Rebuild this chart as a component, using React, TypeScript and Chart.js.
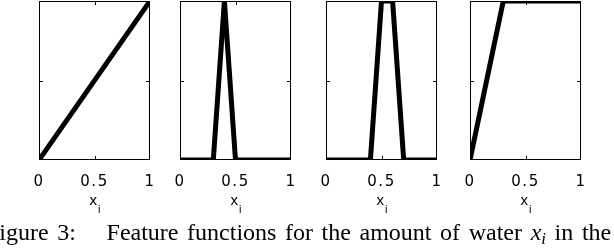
import React, { useEffect, useRef } from "react";
import { Chart, registerables } from "chart.js";

Chart.register(...registerables);

// ---- data ----
const xTickValues = [0, 0.5, 1];
const xTickLabels = ["0", "0.5", "1"];

const panel1X = [0, 1];
const panel1Y = [0, 1];

const panel2X = [0, 0.3, 0.4, 0.5, 1];
const panel2Y = [0, 0, 1, 0, 0];

const panel3X = [0, 0.4, 0.5, 0.6, 0.7, 1];
const panel3Y = [0, 0, 1, 1, 0, 0];

const panel4X = [0, 0.3, 1];
const panel4Y = [0, 1, 1];

const axisLabel = "x";
const axisLabelSub = "i";
const captionStart = "Figure 3:";
const captionMiddle = "Feature functions for the amount of water ";
const captionVar = "x";
const captionVarSub = "i";
const captionAfter = " in the";

// ---- layout ----
const PANEL_LEFT = [39, 180, 326, 470];
const PANEL_W = 111;
const PAD = 20;
const AXIS_H = 34;
const CANVAS_H = 160 + AXIS_H;

const boxPlugin = {
  id: "matlabBox",
  beforeDraw(chart: any) {
    try {
      chart.ctx.letterSpacing = "1.5px";
    } catch (e) {}
  },
  beforeDatasetsDraw(chart: any) {
    const { ctx, chartArea: a, scales } = chart;
    ctx.save();
    ctx.strokeStyle = "#000";
    ctx.lineWidth = 1;
    ctx.strokeRect(a.left + 0.5, a.top + 0.5, a.right - a.left - 1, a.bottom - a.top - 1);
    const xm = Math.round(scales.x.getPixelForValue(0.5)) + 0.5;
    const ym = Math.round(scales.y.getPixelForValue(0.5)) + 0.5;
    ctx.beginPath();
    ctx.moveTo(xm, a.bottom);
    ctx.lineTo(xm, a.bottom - 4);
    ctx.moveTo(xm, a.top);
    ctx.lineTo(xm, a.top + 4);
    ctx.moveTo(a.left, ym);
    ctx.lineTo(a.left + 4, ym);
    ctx.moveTo(a.right, ym);
    ctx.lineTo(a.right - 4, ym);
    ctx.stroke();
    ctx.restore();
  },
};

function Panel({ xs, ys, left }: { xs: number[]; ys: number[]; left: number }) {
  const ref = useRef<HTMLCanvasElement | null>(null);
  useEffect(() => {
    if (!ref.current) return;
    const chart = new Chart(ref.current, {
      type: "line",
      data: {
        datasets: [
          {
            data: xs.map((x, i) => ({ x, y: ys[i] })),
            borderColor: "#000",
            borderWidth: 5,
            pointRadius: 0,
            tension: 0,
            fill: false,
          },
        ],
      },
      options: {
        responsive: false,
        animation: false,
        events: [],
        layout: { padding: { left: PAD, right: PAD, top: 1, bottom: 0 } },
        plugins: { legend: { display: false }, tooltip: { enabled: false } },
        scales: {
          x: {
            type: "linear",
            min: 0,
            max: 1,
            afterBuildTicks: (s: any) => {
              s.ticks = xTickValues.map((v) => ({ value: v }));
            },
            afterFit: (s: any) => {
              s.height = AXIS_H;
            },
            ticks: {
              color: "#000",
              padding: 13,
              maxRotation: 0,
              autoSkip: false,
              font: { family: "'DejaVu Sans', sans-serif", size: 15 },
              callback: (v: any) => xTickLabels[xTickValues.indexOf(Number(v))] ?? String(v),
            },
            grid: { display: false, drawTicks: false },
            border: { display: false },
          },
          y: {
            type: "linear",
            min: 0,
            max: 1,
            display: false,
          },
        },
      },
      plugins: [boxPlugin],
    });
    return () => chart.destroy();
  }, [xs, ys]);
  return (
    <canvas
      ref={ref}
      width={PANEL_W + 2 * PAD}
      height={CANVAS_H}
      style={{
        position: "absolute",
        left: left - PAD,
        top: 0,
        width: PANEL_W + 2 * PAD,
        height: CANVAS_H,
      }}
    />
  );
}

const PANELS = [
  { xs: panel1X, ys: panel1Y },
  { xs: panel2X, ys: panel2Y },
  { xs: panel3X, ys: panel3Y },
  { xs: panel4X, ys: panel4Y },
];

export default function App() {
  return (
    <div
      style={{
        position: "fixed",
        left: 0,
        top: 0,
        width: 614,
        height: 250,
        overflow: "hidden",
        background: "#fff",
      }}
    >
      {PANELS.map((p, i) => (
        <React.Fragment key={i}>
          <Panel xs={p.xs} ys={p.ys} left={PANEL_LEFT[i]} />
          <div
            style={{
              position: "absolute",
              left: PANEL_LEFT[i] + PANEL_W / 2 - 5,
              top: 191,
              fontFamily: "'Liberation Sans', Arial, sans-serif",
              fontSize: 15,
              lineHeight: "18px",
              color: "#000",
              whiteSpace: "nowrap",
            }}
          >
            {axisLabel}
            <span style={{ fontSize: 11, position: "relative", top: 8, marginLeft: 1 }}>
              {axisLabelSub}
            </span>
          </div>
        </React.Fragment>
      ))}
      <div
        style={{
          position: "absolute",
          left: -14,
          top: 219,
          fontFamily: "'Liberation Serif', 'Times New Roman', serif",
          fontSize: 24,
          lineHeight: "26px",
          color: "#000",
          whiteSpace: "nowrap",
          wordSpacing: "2.6px",
        }}
      >
        <span style={{ marginRight: 22 }}>{captionStart}</span> {captionMiddle}
        <i>{captionVar}</i>
        <i style={{ fontSize: 17, position: "relative", top: 4 }}>{captionVarSub}</i>
        {captionAfter}
      </div>
    </div>
  );
}
